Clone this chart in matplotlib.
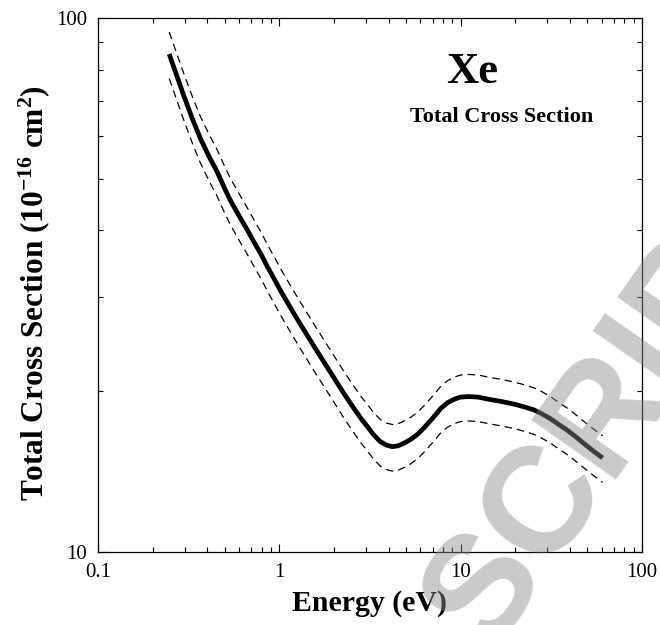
import matplotlib
matplotlib.use("Agg")
import matplotlib.pyplot as plt
from matplotlib.ticker import NullFormatter

plt.rcParams['font.family'] = 'Liberation Serif'
plt.rcParams['mathtext.default'] = 'regular'

# recommended Xe total cross section
energy = [0.247, 0.27, 0.296, 0.33, 0.366, 0.41, 0.453, 0.50, 0.536, 0.60,
          0.663, 0.73, 0.80, 0.86, 0.93, 1.03, 1.15, 1.28, 1.42, 1.55,
          1.69, 1.85, 2.0, 2.27, 2.6, 2.85, 3.05, 3.3, 3.6, 3.9,
          4.2, 4.5, 4.9, 5.3, 5.77, 6.3, 7.1, 7.8, 8.5, 9.3,
          10.0, 11.0, 12.5, 14.5, 16.6, 20.0, 23.0, 25.4, 28.0, 31.0,
          35.0, 38.8, 43.0, 48.0, 54.0, 60.7]
sigma = [85.6, 78.5, 71.8, 65.0, 59.6, 55.0, 51.6, 47.9, 45.6, 42.6,
         40.2, 37.9, 35.9, 34.2, 32.6, 30.6, 28.7, 27.0, 25.5, 24.3,
         23.2, 22.1, 21.2, 19.8, 18.5, 17.7, 17.2, 16.6, 16.1, 15.85,
         15.75, 15.8, 16.0, 16.25, 16.6, 17.1, 17.9, 18.6, 19.05, 19.35,
         19.5, 19.55, 19.5, 19.3, 19.15, 18.9, 18.65, 18.45, 18.15, 17.8,
         17.3, 16.9, 16.45, 15.95, 15.45, 15.0]
rel_uncertainty = 0.10  # dashed band, +/- 10 %

x_ticks = [0.1, 1, 10, 100]
x_ticklabels = ['0.1', '1', '10', '100']
y_ticks = [10, 100]
y_ticklabels = ['10', '100']

upper = [s * (1 + rel_uncertainty) for s in sigma]
lower = [s * (1 - rel_uncertainty) for s in sigma]

fig = plt.figure(figsize=(6.6, 6.25), dpi=100)
ax = fig.add_axes([0.1485, 0.1168, 0.8242, 0.8544])

ax.plot(energy, sigma, color='black', lw=3.4, solid_capstyle='butt',
        solid_joinstyle='round')
ax.plot(energy, upper, color='black', lw=0.9, ls=(0, (6, 4)))
ax.plot(energy, lower, color='black', lw=0.9, ls=(0, (6, 4)))

ax.set_xscale('log')
ax.set_yscale('log')
ax.set_xlim(0.1, 100)
ax.set_ylim(10, 100)
ax.set_xticks(x_ticks, x_ticklabels)
ax.set_yticks(y_ticks, y_ticklabels)
ax.xaxis.set_minor_formatter(NullFormatter())
ax.yaxis.set_minor_formatter(NullFormatter())

ax.tick_params(which='both', direction='in', top=True, right=True, width=0.8)
ax.tick_params(which='major', length=6, labelsize=15, pad=8)
ax.tick_params(which='minor', length=3.5)
for sp in ax.spines.values():
    sp.set_linewidth(0.9)

ax.set_xlabel('Energy (eV)', fontsize=21.5, fontweight='bold', labelpad=6)
fig.text(0.0515, 0.531, 'Total Cross Section (10$^{-16}$ cm$^{2}$)',
         rotation=90, ha='center', va='center', fontsize=22.5, fontweight='bold')

fig.text(0.715, 1 - 83 / 625, 'Xe', ha='center', va='baseline',
         fontsize=32, fontweight='bold')
fig.text(0.7606, 1 - 121.7 / 625, 'Total Cross Section', ha='center',
         va='baseline', fontsize=16, fontweight='bold')

# watermark
fig.text(0.743, -0.046, 'SCRIPT', rotation=55, rotation_mode='anchor',
         ha='left', va='baseline', fontsize=108, fontweight='bold',
         family='Liberation Sans', color='#8a8a8a', alpha=0.45, zorder=10)

plt.savefig('out.png', dpi=100)
